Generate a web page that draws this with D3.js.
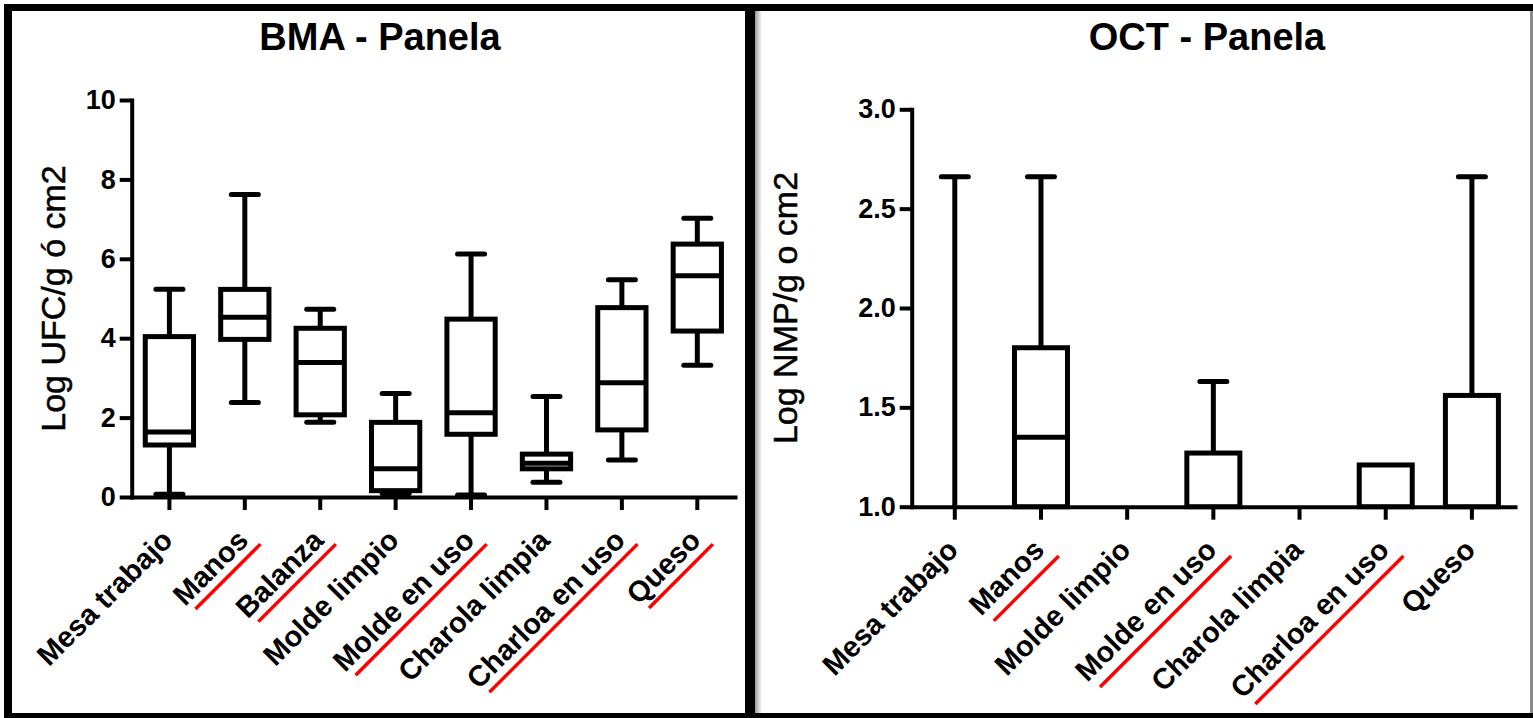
<!DOCTYPE html>
<html>
<head>
<meta charset="utf-8">
<script src="https://cdn.jsdelivr.net/npm/d3@7/dist/d3.min.js"></script>
<style>
  html, body { margin: 0; padding: 0; background: #ffffff; }
  svg { display: block; }
  text { font-family: "Liberation Sans", Arial, sans-serif; fill: #000; }
</style>
</head>
<body>
<svg id="chart" width="1533" height="718"></svg>
<script>
// ---- BMA - Panela (Log UFC/g ó cm2) ----
const bmaCategories = ["Mesa trabajo", "Manos", "Balanza", "Molde limpio", "Molde en uso", "Charola limpia", "Charloa en uso", "Queso"];
const bmaMin    = [0.07, 2.38, 1.88, 0.09, 0.05, 0.37, 0.93, 3.32];
const bmaQ1     = [1.31, 3.97, 2.07, 0.16, 1.58, 0.71, 1.69, 4.18];
const bmaMedian = [1.64, 4.53, 3.39, 0.71, 2.12, 0.85, 2.88, 5.57];
const bmaQ3     = [4.04, 5.23, 4.25, 1.88, 4.48, 1.08, 4.77, 6.37];
const bmaMax    = [5.23, 7.62, 4.73, 2.61, 6.12, 2.53, 5.47, 7.02];
const bmaTicks  = [0, 2, 4, 6, 8, 10];
const bmaMarked = ["Manos", "Balanza", "Molde en uso", "Charloa en uso", "Queso"];

// ---- OCT - Panela (Log NMP/g o cm2) ----
const octCategories = ["Mesa trabajo", "Manos", "Molde limpio", "Molde en uso", "Charola limpia", "Charloa en uso", "Queso"];
const octMin    = [1.00, 1.00, 1.00, 1.00, 1.00, 1.00, 1.00];
const octQ1     = [1.00, 1.00, 1.00, 1.00, 1.00, 1.00, 1.00];
const octMedian = [1.00, 1.35, 1.00, 1.00, 1.00, 1.00, 1.00];
const octQ3     = [1.00, 1.80, 1.00, 1.27, 1.00, 1.21, 1.56];
const octMax    = [2.66, 2.66, 1.00, 1.63, 1.00, 1.21, 2.66];
const octTicks  = [1.0, 1.5, 2.0, 2.5, 3.0];
const octMarked = ["Manos", "Molde en uso", "Charloa en uso"];

const svg = d3.select("#chart");

// ---- frame around the two panels ----
const defs = svg.append("defs");
const shade = defs.append("linearGradient").attr("id", "edgeShade")
  .attr("x1", "0%").attr("x2", "100%").attr("y1", "0%").attr("y2", "0%");
shade.append("stop").attr("offset", "0%").attr("stop-color", "#9a9a9a");
shade.append("stop").attr("offset", "100%").attr("stop-color", "#ffffff");

svg.append("rect").attr("x", 0).attr("y", 0).attr("width", 1533).attr("height", 718).attr("fill", "#fff");
svg.append("rect").attr("x", 755).attr("y", 11).attr("width", 7).attr("height", 702).attr("fill", "url(#edgeShade)");
svg.append("rect").attr("x", 1530).attr("y", 4).attr("width", 3).attr("height", 714).attr("fill", "#8a8a8a");
svg.append("rect").attr("x", 4).attr("y", 4).attr("width", 1529).attr("height", 7).attr("fill", "#000");
svg.append("rect").attr("x", 4).attr("y", 713).attr("width", 1529).attr("height", 5).attr("fill", "#000");
svg.append("rect").attr("x", 4).attr("y", 4).attr("width", 8).attr("height", 714).attr("fill", "#000");
svg.append("rect").attr("x", 745).attr("y", 4).attr("width", 10).attr("height", 714).attr("fill", "#000");

function drawPanel(cfg) {
  const g = svg.append("g");
  const x = d3.scaleBand().domain(cfg.categories).range([cfg.left, cfg.right]).padding(0);
  const y = d3.scaleLinear().domain(cfg.domain).range([cfg.bottom, cfg.top]);
  const boxW = x.bandwidth() * cfg.boxFrac;
  const capHalf = 13.5;

  // title
  g.append("text")
    .attr("x", cfg.titleX).attr("y", 50)
    .attr("text-anchor", "middle")
    .attr("font-size", 38).attr("font-weight", "bold")
    .text(cfg.title);

  // y axis
  const yAxis = g.append("g")
    .attr("transform", `translate(${cfg.left},0)`)
    .call(d3.axisLeft(y).tickValues(cfg.ticks).tickFormat(cfg.tickFormat)
      .tickSize(12).tickSizeOuter(0).tickPadding(4));
  yAxis.select(".domain").attr("stroke", "#000").attr("stroke-width", 4).attr("stroke-linecap", "square");
  yAxis.selectAll(".tick line").attr("stroke", "#000").attr("stroke-width", 4);
  yAxis.selectAll(".tick text")
    .attr("font-size", 27).attr("font-weight", "bold")
    .attr("font-family", "Liberation Sans, Arial, sans-serif").attr("fill", "#000");

  // y axis title
  g.append("text")
    .attr("transform", `translate(${cfg.yLabelX},${(cfg.top + cfg.bottom) / 2}) rotate(-90)`)
    .attr("text-anchor", "middle")
    .attr("font-size", 34)
    .attr("stroke", "#000").attr("stroke-width", 0.5)
    .text(cfg.yLabel);

  // x axis
  const xAxis = g.append("g")
    .attr("transform", `translate(0,${cfg.bottom})`)
    .call(d3.axisBottom(x).tickSize(13).tickSizeOuter(0).tickFormat(""));
  xAxis.select(".domain").attr("stroke", "#000").attr("stroke-width", 4).attr("stroke-linecap", "square");
  xAxis.selectAll(".tick line").attr("stroke", "#000").attr("stroke-width", 4);

  // rotated category labels, with red underline on marked ones
  cfg.categories.forEach(c => {
    const cx = x(c) + x.bandwidth() / 2;
    const lg = g.append("g")
      .attr("transform", `translate(${cx + 5},${cfg.bottom + 45}) rotate(-45)`);
    const t = lg.append("text")
      .attr("text-anchor", "end")
      .attr("font-size", 29).attr("font-weight", "bold")
      .text(c);
    if (cfg.marked.includes(c)) {
      const len = t.node().getComputedTextLength();
      lg.append("line")
        .attr("x1", -len + 6).attr("x2", 6)
        .attr("y1", cfg.lineOffset).attr("y2", cfg.lineOffset)
        .attr("stroke", "#ff0000").attr("stroke-width", 3.5);
    }
  });

  // box plots
  const items = cfg.categories.map((c, i) => ({
    c, min: cfg.min[i], q1: cfg.q1[i], med: cfg.median[i], q3: cfg.q3[i], max: cfg.max[i]
  }));
  const marks = g.append("g").attr("stroke", "#000").attr("stroke-width", 5);
  items.forEach(d => {
    const cx = x(d.c) + x.bandwidth() / 2;
    if (d.max > d.q3) {
      marks.append("line").attr("x1", cx).attr("x2", cx).attr("y1", y(d.q3)).attr("y2", y(d.max));
      marks.append("line").attr("x1", cx - capHalf).attr("x2", cx + capHalf)
        .attr("y1", y(d.max)).attr("y2", y(d.max)).attr("stroke-linecap", "round");
    }
    if (d.min < d.q1) {
      marks.append("line").attr("x1", cx).attr("x2", cx).attr("y1", y(d.q1)).attr("y2", y(d.min));
      marks.append("line").attr("x1", cx - capHalf).attr("x2", cx + capHalf)
        .attr("y1", y(d.min)).attr("y2", y(d.min)).attr("stroke-linecap", "round");
    }
    if (d.q3 > d.q1) {
      marks.append("rect")
        .attr("x", cx - boxW / 2).attr("width", boxW)
        .attr("y", y(d.q3)).attr("height", y(d.q1) - y(d.q3))
        .attr("fill", "#fff");
      if (d.med > d.q1 && d.med < d.q3) {
        marks.append("line").attr("x1", cx - boxW / 2).attr("x2", cx + boxW / 2)
          .attr("y1", y(d.med)).attr("y2", y(d.med));
      }
    }
  });
}

drawPanel({
  title: "BMA - Panela", titleX: 380,
  yLabel: "Log UFC/g ó cm2", yLabelX: 65,
  categories: bmaCategories, min: bmaMin, q1: bmaQ1, median: bmaMedian, q3: bmaQ3, max: bmaMax,
  ticks: bmaTicks, tickFormat: d3.format("d"), domain: [0, 10],
  marked: bmaMarked,
  left: 131.7, right: 735, top: 100, bottom: 497, boxFrac: 0.64, lineOffset: 9
});

drawPanel({
  title: "OCT - Panela", titleX: 1207,
  yLabel: "Log NMP/g o cm2", yLabelX: 797,
  categories: octCategories, min: octMin, q1: octQ1, median: octMedian, q3: octQ3, max: octMax,
  ticks: octTicks, tickFormat: d3.format(".1f"), domain: [1, 3],
  marked: octMarked,
  left: 911.7, right: 1515, top: 109.3, bottom: 506.7, boxFrac: 0.615, lineOffset: 12
});
</script>
</body>
</html>
